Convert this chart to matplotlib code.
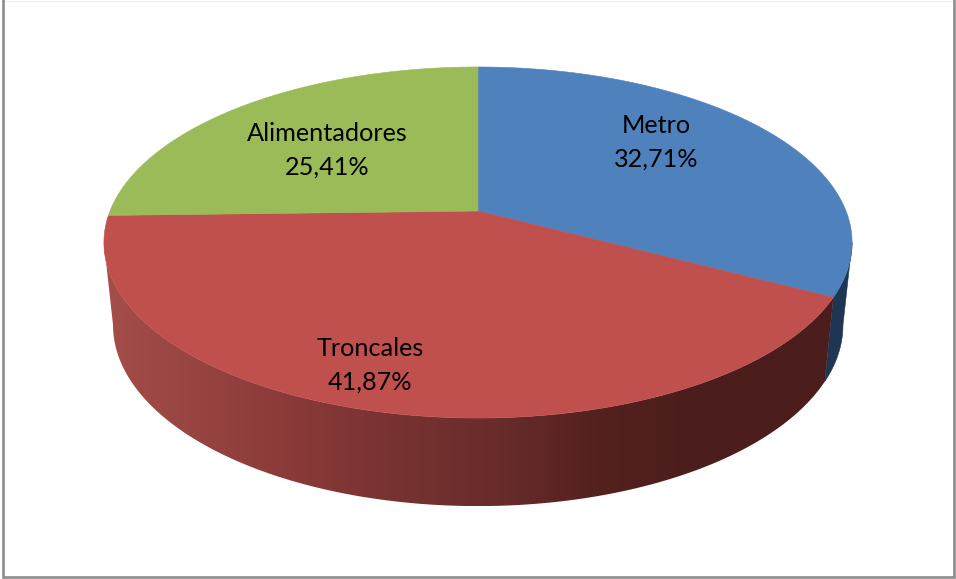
import numpy as np
import matplotlib
matplotlib.use("Agg")
import matplotlib.pyplot as plt
from matplotlib.colors import LinearSegmentedColormap
from matplotlib.patches import Polygon

labels = ['Metro', 'Troncales', 'Alimentadores']
shares = [32.71, 41.87, 25.41]
top_colors = ['#4f81bd', '#c0504d', '#9bbb59']
label_xy = [(656, 142), (370, 365), (327, 150)]

# pixel-space perspective of the pie disc: (x scale, y at centre, y slope, perspective)
TOP = (368.0, 211.0, -132.0, 0.1795)
BOTTOM = (359.0, 292.5, -122.5, 0.18)
CX = 478.0
W, H = 956, 579


def project(deg, plane):
    a, y0, b, c = plane
    t = np.radians(deg)
    u, v = np.sin(t), np.cos(t)
    w = 1 + c * v
    return np.column_stack([CX + a * u / w, (y0 + b * v) / w])


def arc(start, end, plane):
    return project(np.linspace(start, end, 240), plane)


def side_path(start, end):
    return np.vstack([arc(start, end, BOTTOM), arc(end, start, TOP)])


fig = plt.figure(figsize=(W / 100, H / 100), dpi=100, facecolor='white')
ax = fig.add_axes([0, 0, 1, 1])
ax.set_xlim(0, W)
ax.set_ylim(H, 0)
ax.axis('off')

# chart frame: heavy on three sides, barely there on top
ax.plot([3, 954], [1, 1], color='#f0f0f0', lw=0.8, solid_capstyle='butt')
ax.plot([3, 3, 954.5, 954.5], [0, 577.3, 577.3, 0], color='#8c8c8c', lw=1.9, solid_joinstyle='miter')

edges = np.concatenate([[0], np.cumsum(shares)]) / sum(shares) * 360
# the rim turns out of sight where the disc outline is widest
limit = np.degrees(np.arccos(-TOP[3]))

# dark blue rim, only a sliver shows on the right
ax.add_patch(Polygon(side_path(limit, edges[1]), closed=True, facecolor='#1e3653', edgecolor='#1e3653', lw=0.4))

# red rim with its horizontal shading
rim = LinearSegmentedColormap.from_list('rim', [
    (0.00, '#a54d49'), (0.06, '#9e4945'), (0.25, '#8a3a38'), (0.40, '#763230'),
    (0.53, '#682c2b'), (0.66, '#54211f'), (0.80, '#4b1d1c'), (1.00, '#4b1d1c')])
shade = ax.imshow(np.linspace(0, 1, 256)[None, :], cmap=rim, extent=(104, 852, 506, 200),
                  aspect='auto', interpolation='bilinear', zorder=2)
ax.set_xlim(0, W)
ax.set_ylim(H, 0)
clip = Polygon(side_path(edges[1], 360 - limit), closed=True, transform=ax.transData, facecolor='none', edgecolor='none')
ax.add_patch(clip)
shade.set_clip_path(clip)

# top faces
for i, color in enumerate(top_colors):
    pts = np.vstack([[[CX, TOP[1]]], arc(edges[i], edges[i + 1], TOP)])
    ax.add_patch(Polygon(pts, closed=True, facecolor=color, edgecolor=color, lw=0.4, zorder=3))

for name, value, (x, y) in zip(labels, shares, label_xy):
    ax.text(x, y, f"{name}\n{value:.2f}%".replace('.', ','), ha='center', va='center', ma='center',
            family='Lato', fontsize=18.2, color='black', linespacing=1.54, zorder=4)

fig.savefig('out.png', dpi=100, facecolor='white')
